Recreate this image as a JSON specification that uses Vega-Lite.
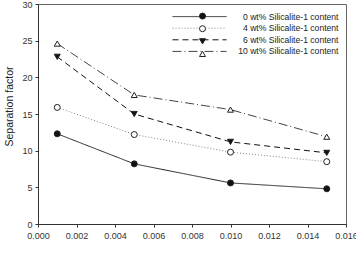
{
  "$schema": "https://vega.github.io/schema/vega-lite/v6.json",
  "width": 308,
  "height": 220,
  "autosize": {"type": "none"},
  "padding": {"left": 38, "top": 4, "right": 10, "bottom": 33},
  "background": "white",
  "config": {
    "font": "Liberation Sans",
    "view": {"stroke": "#666", "strokeWidth": 1},
    "axis": {"grid": false, "domain": true, "domainColor": "#333", "tickColor": "#333", "tickSize": 3, "labelColor": "#333", "titleColor": "#222", "labelFontSize": 9, "titleFontSize": 10, "titleFontWeight": "normal"},
    "legend": {"padding": 0}
  },
  "data": {"values": [
    {"series": "0 wt% Silicalite-1 content", "conc": 0.001, "sf": 12.3},
    {"series": "0 wt% Silicalite-1 content", "conc": 0.005, "sf": 8.2},
    {"series": "0 wt% Silicalite-1 content", "conc": 0.010, "sf": 5.6},
    {"series": "0 wt% Silicalite-1 content", "conc": 0.015, "sf": 4.8},
    {"series": "4 wt% Silicalite-1 content", "conc": 0.001, "sf": 15.9},
    {"series": "4 wt% Silicalite-1 content", "conc": 0.005, "sf": 12.2},
    {"series": "4 wt% Silicalite-1 content", "conc": 0.010, "sf": 9.8},
    {"series": "4 wt% Silicalite-1 content", "conc": 0.015, "sf": 8.5},
    {"series": "6 wt% Silicalite-1 content", "conc": 0.001, "sf": 22.8},
    {"series": "6 wt% Silicalite-1 content", "conc": 0.005, "sf": 15.0},
    {"series": "6 wt% Silicalite-1 content", "conc": 0.010, "sf": 11.2},
    {"series": "6 wt% Silicalite-1 content", "conc": 0.015, "sf": 9.7},
    {"series": "10 wt% Silicalite-1 content", "conc": 0.001, "sf": 24.6},
    {"series": "10 wt% Silicalite-1 content", "conc": 0.005, "sf": 17.6},
    {"series": "10 wt% Silicalite-1 content", "conc": 0.010, "sf": 15.6},
    {"series": "10 wt% Silicalite-1 content", "conc": 0.015, "sf": 11.9}
  ]},
  "encoding": {
    "x": {"field": "conc", "type": "quantitative", "scale": {"domain": [0, 0.016], "nice": false}, "axis": {"format": ".3f", "values": [0, 0.002, 0.004, 0.006, 0.008, 0.01, 0.012, 0.014, 0.016], "labelPadding": 4, "labelFlush": false, "titleX": 160, "titleY": 246, "titleBaseline": "top"}, "title": "n-Butanol concentration in feed (mole fraction)"},
    "y": {"field": "sf", "type": "quantitative", "scale": {"domain": [0, 30], "nice": false}, "axis": {"values": [0, 5, 10, 15, 20, 25, 30], "labelPadding": 3, "titlePadding": 7, "titleFontSize": 10.5, "titleY": 102}, "title": "Separation factor"}
  },
  "layer": [
    {
      "mark": {"type": "line", "strokeWidth": 1},
      "encoding": {
        "strokeDash": {"field": "series", "type": "nominal", "sort": null,
          "scale": {"domain": ["0 wt% Silicalite-1 content", "4 wt% Silicalite-1 content", "6 wt% Silicalite-1 content", "10 wt% Silicalite-1 content"], "range": [[1, 0], [1, 2], [6, 4], [9, 3, 1, 3]]},
          "legend": {"orient": "none", "legendX": 156.5, "legendY": 7.6, "title": null, "symbolType": "M-6,0H6", "symbolSize": 81, "symbolStrokeWidth": 1, "labelFontSize": 8.6, "labelColor": "#222", "labelAlign": "right", "labelOffset": 134, "rowPadding": 1.6}},
        "color": {"field": "series", "type": "nominal", "sort": null,
          "scale": {"domain": ["0 wt% Silicalite-1 content", "4 wt% Silicalite-1 content", "6 wt% Silicalite-1 content", "10 wt% Silicalite-1 content"], "range": ["#222", "#888", "#111", "#444"]}}
      }
    },
    {
      "mark": {"type": "point", "size": 36, "opacity": 1, "strokeWidth": 1},
      "encoding": {
        "shape": {"field": "series", "type": "nominal", "sort": null,
          "scale": {"range": ["circle", "circle", "triangle-down", "triangle-up"]},
          "legend": {"orient": "none", "legendX": 160, "legendY": 7.6, "title": null, "symbolSize": 36, "symbolStrokeWidth": 1, "symbolOpacity": 1, "labelFontSize": 9, "labelExpr": "''", "rowPadding": 1.6}},
        "fill": {"field": "series", "type": "nominal", "sort": null,
          "scale": {"range": ["#111", "#fff", "#111", "#fff"]}},
        "stroke": {"value": "#222"}
      }
    }
  ]
}
